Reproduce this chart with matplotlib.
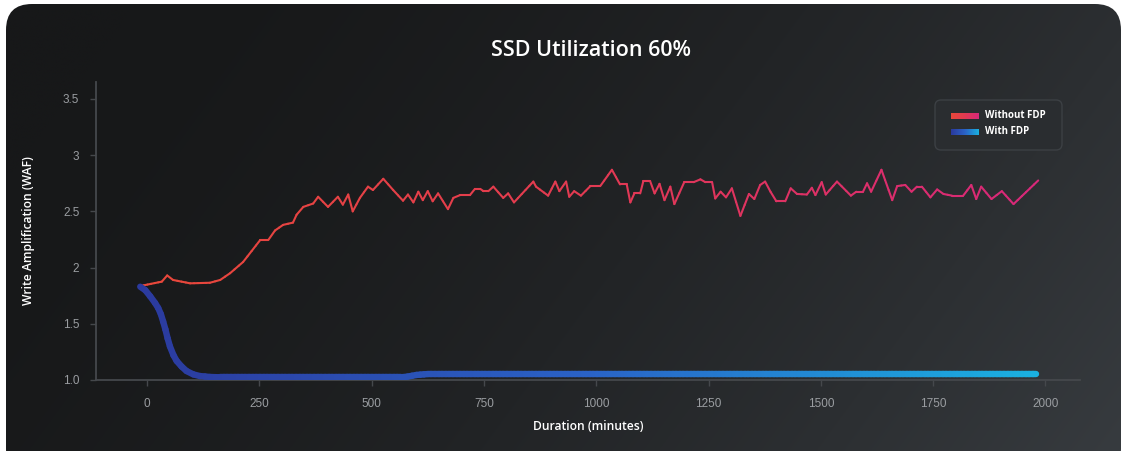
#!/usr/bin/env python3
import numpy as np
import matplotlib
matplotlib.use('Agg')
import matplotlib.pyplot as plt
from matplotlib.collections import LineCollection
from matplotlib.colors import LinearSegmentedColormap
from matplotlib.patches import FancyBboxPatch

W, H = 1121, 451

# Without FDP
red_x = [-15, 33, 45, 58, 96, 140, 163, 185, 214, 252, 270, 285, 303, 325, 333, 348,
         370, 381, 403, 425, 436, 448, 458, 474, 492, 503, 526, 548, 570, 581, 593,
         604, 614, 625, 636, 648, 670, 682, 697, 719, 730, 742, 749, 760, 771, 793,
         804, 817, 860, 866, 893, 909, 918, 933, 940, 951, 966, 987, 1009, 1035,
         1053, 1068, 1076, 1085, 1098, 1105, 1120, 1130, 1141, 1152, 1165, 1174,
         1196, 1217, 1232, 1243, 1258, 1265, 1277, 1289, 1302, 1321, 1340, 1352,
         1365, 1376, 1388, 1401, 1421, 1433, 1447, 1469, 1480, 1488, 1502, 1511,
         1536, 1567, 1579, 1594, 1603, 1612, 1635, 1659, 1670, 1688, 1702, 1714,
         1725, 1744, 1759, 1773, 1792, 1817, 1835, 1846, 1857, 1880, 1903, 1929, 1984]
red_y = [1.836, 1.875, 1.93, 1.89, 1.86, 1.865, 1.89, 1.95, 2.05, 2.245, 2.245, 2.33,
         2.38, 2.40, 2.47, 2.54, 2.57, 2.63, 2.54, 2.63, 2.56, 2.65, 2.50, 2.62, 2.72,
         2.69, 2.79, 2.69, 2.595, 2.65, 2.58, 2.675, 2.60, 2.68, 2.59, 2.66, 2.52,
         2.62, 2.645, 2.645, 2.70, 2.70, 2.68, 2.68, 2.72, 2.62, 2.66, 2.58, 2.765,
         2.72, 2.64, 2.765, 2.68, 2.765, 2.63, 2.68, 2.64, 2.725, 2.725, 2.87, 2.74,
         2.74, 2.58, 2.66, 2.66, 2.77, 2.77, 2.66, 2.745, 2.60, 2.72, 2.565, 2.76,
         2.76, 2.785, 2.76, 2.76, 2.615, 2.675, 2.625, 2.705, 2.46, 2.655, 2.61,
         2.735, 2.765, 2.675, 2.59, 2.59, 2.705, 2.655, 2.65, 2.71, 2.645, 2.76,
         2.65, 2.765, 2.64, 2.675, 2.675, 2.75, 2.675, 2.87, 2.60, 2.725, 2.735,
         2.675, 2.72, 2.72, 2.625, 2.695, 2.655, 2.64, 2.64, 2.735, 2.61, 2.72,
         2.61, 2.68, 2.565, 2.775]

# With FDP
blue_x = [-15, -4, 7, 18, 25, 31, 36, 41, 46, 51, 59, 66, 77, 88, 103, 118, 140, 163,
          565, 580, 600, 625, 1980]
blue_y = [1.83, 1.80, 1.745, 1.685, 1.64, 1.585, 1.52, 1.45, 1.37, 1.30, 1.22, 1.17,
          1.12, 1.08, 1.05, 1.035, 1.027, 1.024, 1.024, 1.03, 1.045, 1.053, 1.053]

x_ticks = [0, 250, 500, 750, 1000, 1250, 1500, 1750, 2000]
y_ticks = [1.0, 1.5, 2, 2.5, 3, 3.5]
y_tick_labels = ['1.0', '1.5', '2', '2.5', '3', '3.5']
series_names = ['Without FDP', 'With FDP']

red_cmap = LinearSegmentedColormap.from_list('red', ['#e8483a', '#e23a52', '#d8287a'])
blue_cmap = LinearSegmentedColormap.from_list('blue', ['#2b3a9e', '#2a62c6', '#1ab0e0'])

TICK_FONT = ['Liberation Sans', 'DejaVu Sans']
TEXT_FONT = ['Open Sans', 'DejaVu Sans']


def gradient_line(ax, xs, ys, cmap, lw, x0, x1, z):
    # split each segment into short pieces so the colour can run along x
    px, py = [], []
    for i in range(len(xs) - 1):
        n = max(2, int(abs(xs[i + 1] - xs[i]) / 8) + 1)
        px.extend(np.linspace(xs[i], xs[i + 1], n)[:-1])
        py.extend(np.linspace(ys[i], ys[i + 1], n)[:-1])
    px.append(xs[-1])
    py.append(ys[-1])
    pts = np.column_stack([px, py])
    segs = np.stack([pts[:-1], pts[1:]], axis=1)
    mid = (pts[:-1, 0] + pts[1:, 0]) / 2
    lc = LineCollection(segs, cmap=cmap, norm=plt.Normalize(x0, x1),
                        linewidths=lw, capstyle='round', joinstyle='round', zorder=z)
    lc.set_array(mid)
    ax.add_collection(lc)


fig = plt.figure(figsize=(W / 100, H / 100), dpi=100, facecolor='white')

# card background with gradient
bg = fig.add_axes([0, 0, 1, 1], zorder=-10)
bg.set_xlim(0, W)
bg.set_ylim(H, 0)
bg.axis('off')
gx, gy = np.meshgrid(np.linspace(0, 1, 400), np.linspace(0, 1, 160))
t = np.clip(0.85 * gx + 0.25 * gy - 0.1, 0, 1) ** 1.6
c0 = np.array([0x17, 0x18, 0x19]) / 255
c1 = np.array([0x37, 0x3b, 0x3f]) / 255
img = c0 + (c1 - c0) * t[..., None]
card = FancyBboxPatch((6, 4), W - 6, H + 20, boxstyle='round,pad=0,rounding_size=26',
                      transform=bg.transData, facecolor='none', edgecolor='none')
bg.add_patch(card)
im = bg.imshow(img, extent=(6, W, H, 4), aspect='auto', interpolation='bilinear')
im.set_clip_path(card)

ax = fig.add_axes([96 / W, 1 - 380 / H, (1080 - 96) / W, (380 - 82) / H])
ax.set_facecolor('none')
ax.set_xlim(-113.5, 2077)
ax.set_ylim(1.0, 3.651)

gradient_line(ax, red_x, red_y, red_cmap, 1.5, -15, 1984, 3)
gradient_line(ax, blue_x, blue_y, blue_cmap, 4.6, -15, 1980, 4)

for side in ['top', 'right']:
    ax.spines[side].set_visible(False)
for side in ['left', 'bottom']:
    ax.spines[side].set_color('#45484c')
    ax.spines[side].set_linewidth(1.3)

ax.set_xticks(x_ticks)
ax.set_xticklabels([str(v) for v in x_ticks], family=TICK_FONT, fontsize=8.5)
ax.set_yticks(y_ticks)
ax.set_yticklabels(y_tick_labels, family=TICK_FONT, fontsize=8.5)
ax.tick_params(axis='x', colors='#45484c', labelcolor='#9a9da1', length=4, width=1, pad=9)
ax.tick_params(axis='y', colors='#45484c', labelcolor='#9a9da1', length=4, width=1, pad=8)

ax.set_xlabel('Duration (minutes)', family=TEXT_FONT, fontweight='semibold',
              fontsize=8.7, color='white', labelpad=7)
ax.set_ylabel('Write Amplification (WAF)', family=TEXT_FONT, fontweight='semibold',
              fontsize=8.7, color='white', labelpad=20)
fig.text(591 / W, 1 - 51 / H, 'SSD Utilization 60%', family=TEXT_FONT,
         fontweight='semibold', fontsize=15.5, color='white', ha='center', va='center')

# legend with gradient swatches
ov = fig.add_axes([0, 0, 1, 1], zorder=10)
ov.axis('off')
ov.add_patch(FancyBboxPatch((935, 100), 127, 50, boxstyle='round,pad=0,rounding_size=6',
                            facecolor='#2a2d30', edgecolor='#3c4044', linewidth=1.0,
                            zorder=1))
ramp = np.linspace(0, 1, 64)[None, :]
for i, (name, cmap) in enumerate(zip(series_names, [red_cmap, blue_cmap])):
    yc = 116 + i * 16
    ov.imshow(ramp, cmap=cmap, extent=(951, 979, yc + 3, yc - 3), aspect='auto', zorder=3)
    ov.text(985, yc, name, family=TEXT_FONT, fontweight='bold', fontsize=7,
            color='white', va='center', ha='left', zorder=4)
ov.set_xlim(0, W)
ov.set_ylim(H, 0)

fig.savefig('out.png', dpi=100, facecolor='white')
